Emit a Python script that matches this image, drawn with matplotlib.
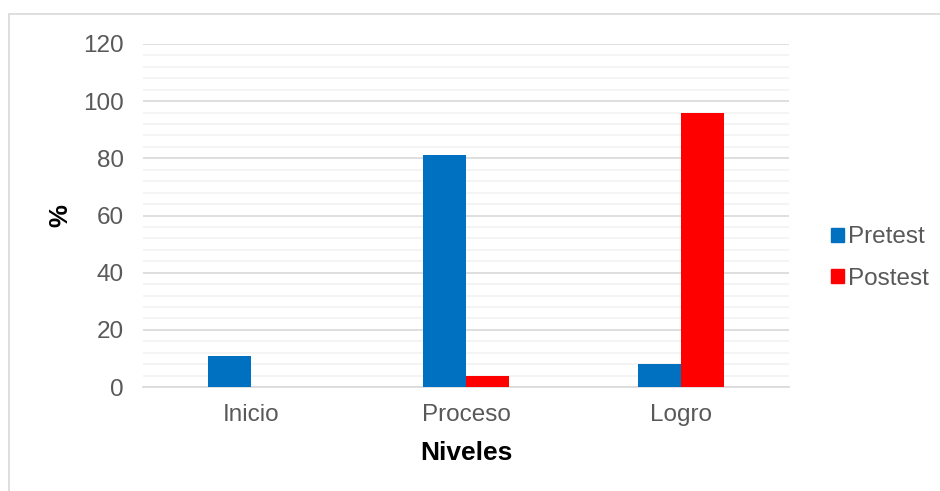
import matplotlib.pyplot as plt
from matplotlib.patches import Rectangle, Patch
from matplotlib.ticker import MultipleLocator
import numpy as np

plt.rcParams['font.family'] = ['Liberation Sans', 'DejaVu Sans']

niveles = ['Inicio', 'Proceso', 'Logro']
pretest = [11, 81, 8]
postest = [0, 4, 96]

blue = '#0070C0'
red = '#FF0000'
gray_text = '#595959'

fig = plt.figure(figsize=(9.4, 4.91), dpi=100)
ax = fig.add_axes([143/940, 1 - 387/491, (789 - 143)/940, (387 - 44)/491])

x = np.arange(len(niveles))
w = 0.2
ax.bar(x - w/2, pretest, w, color=blue, label='Pretest', zorder=3)
ax.bar(x + w/2, postest, w, color=red, label='Postest', zorder=3)

ax.set_xlim(-0.5, len(niveles) - 0.5)
ax.set_ylim(0, 120)
ax.yaxis.set_major_locator(MultipleLocator(20))
ax.yaxis.set_minor_locator(MultipleLocator(4))
ax.grid(axis='y', which='major', color='#D9D9D9', linewidth=1.2, zorder=0)
ax.grid(axis='y', which='minor', color='#F2F2F2', linewidth=1.2, zorder=0)
ax.set_axisbelow(True)

for s in ['top', 'right', 'left']:
    ax.spines[s].set_visible(False)
ax.spines['bottom'].set_color('#D9D9D9')
ax.spines['bottom'].set_linewidth(1.2)

ax.set_xticks(x)
ax.set_xticklabels(niveles)
ax.tick_params(axis='both', which='both', length=0, labelsize=17.5, labelcolor=gray_text)
ax.tick_params(axis='y', pad=14)
ax.tick_params(axis='x', pad=12)

fig.text(466/940, 1 - 453/491, 'Niveles', ha='center', va='center',
         fontsize=19, fontweight='bold', color='black')
fig.text(60/940, 1 - 216/491, '%', ha='center', va='center', rotation=90,
         fontsize=18.5, fontweight='bold', color='black')

handles = [Patch(color=blue, label='Pretest'), Patch(color=red, label='Postest')]
fig.legend(handles=handles, loc='center left', bbox_to_anchor=(809/940, 1 - 258/491),
           frameon=False, fontsize=17.5, labelcolor=gray_text,
           handlelength=0.52, handleheight=0.52, handletextpad=0.2, labelspacing=0.8)

fig.patches.append(Rectangle((9/940, -0.1), 1.0, 1.1 - 14/491, transform=fig.transFigure,
                             fill=False, edgecolor='#D9D9D9', linewidth=1.2))

fig.savefig('out.png', dpi=100)
